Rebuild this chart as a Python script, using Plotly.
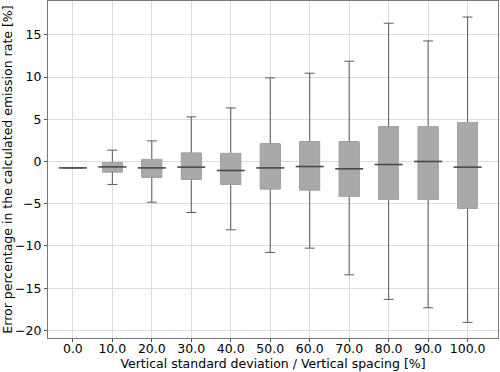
import plotly.graph_objects as go

# Datos (cajas precalculadas)
etiquetas = ["0.0", "10.0", "20.0", "30.0", "40.0", "50.0",
             "60.0", "70.0", "80.0", "90.0", "100.0"]
posiciones = list(range(len(etiquetas)))
q1 = [-0.68, -1.23, -1.86, -2.10, -2.70, -3.24, -3.36, -4.14, -4.50, -4.50, -5.53]
mediana = [-0.76, -0.64, -0.76, -0.67, -1.07, -0.76, -0.60, -0.87, -0.36, 0.00, -0.67]
q3 = [-0.62, -0.12, 0.24, 0.98, 0.95, 2.08, 2.32, 2.32, 4.10, 4.14, 4.60]
bigote_inf = [-0.90, -2.72, -4.82, -6.04, -8.09, -10.77, -10.26, -13.42, -16.33, -17.32, -19.05]
bigote_sup = [-0.52, 1.34, 2.44, 5.28, 6.34, 9.90, 10.45, 11.87, 16.37, 14.27, 17.10]

gris_caja = "#a9a9a9"
gris_linea = "#5a5a5a"

fig = go.Figure()

# Bigotes (caja completa con linea oscura)
fig.add_trace(go.Box(x=posiciones, q1=q1, median=mediana, q3=q3,
                     lowerfence=bigote_inf, upperfence=bigote_sup,
                     width=0.5, whiskerwidth=0.5,
                     fillcolor=gris_caja, line=dict(color=gris_linea, width=1),
                     showlegend=False, hoverinfo="skip"))

# Caja clara encima (tapa el borde oscuro)
fig.add_trace(go.Box(x=posiciones, q1=q1, median=mediana, q3=q3,
                     lowerfence=q1, upperfence=q3,
                     width=0.5, whiskerwidth=0,
                     fillcolor=gris_caja, line=dict(color=gris_caja, width=1),
                     showlegend=False))

# Mediana
fig.add_trace(go.Scatter(x=posiciones, y=mediana, mode="markers",
                         marker=dict(symbol="line-ew", size=20,
                                     line=dict(color="#4a4a4a", width=1.6)),
                         showlegend=False, hoverinfo="skip"))

fig.update_layout(
    width=500, height=372,
    template="plotly_white",
    paper_bgcolor="white", plot_bgcolor="white",
    margin=dict(l=48, r=2, t=1, b=34),
    font=dict(family="DejaVu Sans", size=12.5, color="black"),
    boxmode="overlay",
)

fig.update_xaxes(
    range=[-0.63, 10.77], automargin=False,
    tickvals=posiciones, ticktext=etiquetas,
    ticks="outside", ticklen=3, tickcolor="#555", ticklabelstandoff=-4,
    showgrid=True, gridcolor="#dcdcdc", gridwidth=1,
    showline=True, linecolor="#777", linewidth=1, mirror=True,
    zeroline=False,
    title=dict(text="Vertical standard deviation / Vertical spacing [%]",
               standoff=0, font=dict(size=12.5)),
)

fig.update_yaxes(
    range=[-20.9, 19.0], dtick=5, automargin=False,
    ticks="outside", ticklen=3, tickcolor="#555",
    showgrid=True, gridcolor="#dcdcdc", gridwidth=1,
    showline=True, linecolor="#777", linewidth=1, mirror=True,
    zeroline=False,
    title=dict(text="Error percentage in the calculated emission rate [%]",
               standoff=2, font=dict(size=12.5)),
)

# quitar el margen del body para que la figura empiece en (0, 0)
fig.write_html("out.html", config={"displayModeBar": False},
               post_script="document.body.style.margin='0';")
